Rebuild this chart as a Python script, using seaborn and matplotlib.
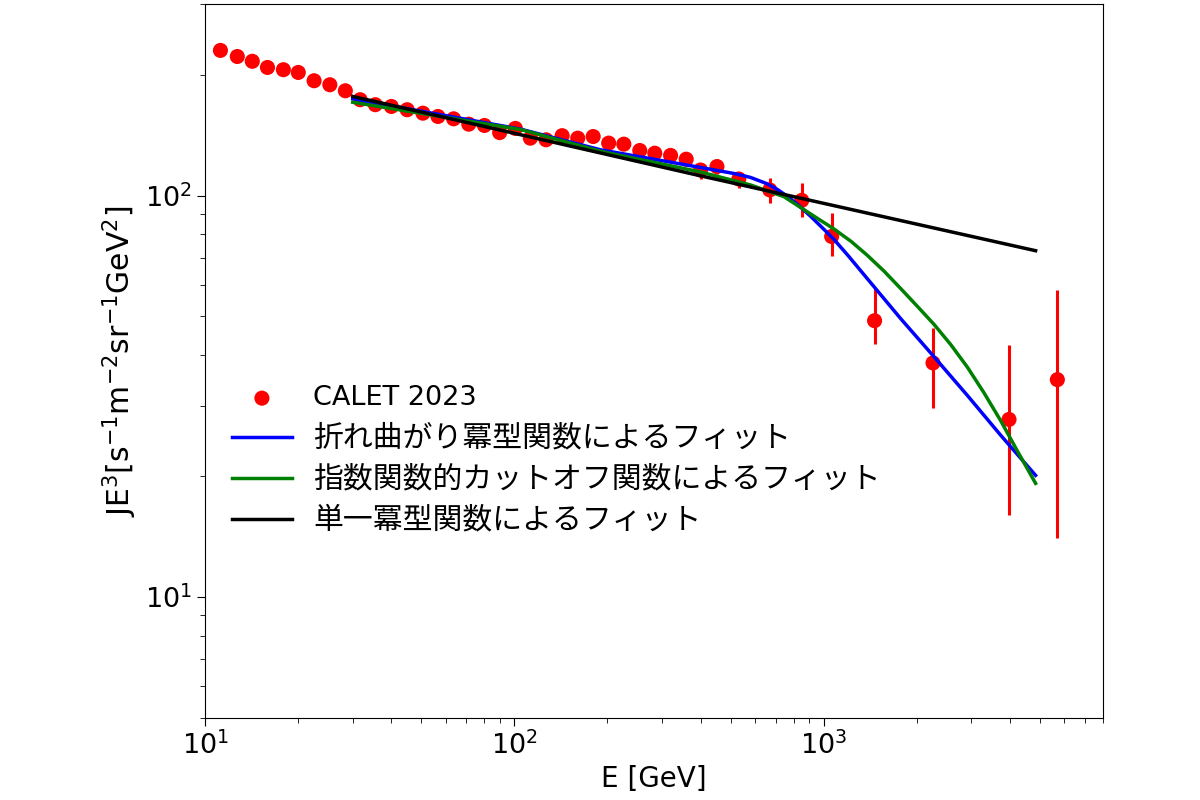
import matplotlib
matplotlib.use("Agg")
import matplotlib.pyplot as plt
import numpy as np
import pandas as pd
import seaborn as sns

# CALET 2023 データ点 (E [GeV], JE^3)
energy = [11.2, 12.7, 14.2, 15.9, 17.9, 20.0, 22.5, 25.3, 28.4, 31.7,
          35.5, 40.0, 45.0, 50.6, 56.6, 63.6, 71.2, 80.0, 89.6, 100.7,
          112.6, 126.6, 142.7, 160.3, 179.8, 201.8, 225.9, 254.4, 284.5, 320.0,
          359.5, 400.0, 452.0, 532.0, 670.0, 850.0, 1062.0, 1462.0, 2259.0, 3979.0,
          5703.0]
flux = [229.9, 222.0, 216.0, 208.5, 205.8, 202.6, 193.2, 188.8, 182.4, 173.3,
        168.4, 166.7, 163.6, 160.4, 157.4, 155.3, 150.6, 149.5, 143.5, 147.0,
        139.0, 137.7, 141.0, 139.0, 140.3, 135.1, 134.3, 129.5, 127.5, 125.9,
        123.2, 115.8, 118.1, 110.0, 103.3, 97.3, 79.1, 48.8, 38.3, 27.7,
        34.8]
err_lo = [1.5] * 20 + [2.5] * 11 + [6.0, 5.0, 5.5, 7.5, 9.0, 8.3, 6.2, 8.7, 11.7, 20.8]
err_hi = [1.5] * 20 + [2.5] * 11 + [4.6, 5.0, 4.5, 7.1, 10.0, 11.2, 9.9, 8.4, 14.7, 23.4]

# 折れ曲がり冪型関数によるフィット
bpl_e = [30, 105, 190, 400, 513, 580, 657, 710, 763, 830, 908, 990, 1080, 1200, 1385, 1775, 2275, 2917, 3740, 4850]
bpl_v = [174.2, 146.3, 130.0, 117.5, 113.5, 111.0, 107.0, 103.5, 99.6, 94.6, 88.8, 83.2, 77.8, 70.9, 62.1, 49.4, 39.7, 31.8, 25.3, 20.1]

# 指数関数的カットオフ関数によるフィット
ec_e = [30, 105, 190, 400, 580, 744, 954, 1080, 1230, 1385, 1570, 1775, 2010, 2275, 2575,
        2917, 3300, 3740, 4250, 4850]
ec_v = [170.8, 146.0, 128.9, 114.5, 106.3, 99.4, 87.8, 82.6, 76.8, 71.0, 64.8, 58.7, 53.0, 47.8, 42.6,
        37.4, 32.3, 27.5, 23.0, 19.2]

# 単一冪型関数によるフィット
spl_e = [30, 400, 4850]
spl_v = [176.6, 112.0, 72.9]

labels = ['CALET 2023',
          '折れ曲がり冪型関数によるフィット',
          '指数関数的カットオフ関数によるフィット',
          '単一冪型関数によるフィット']

plt.rcParams['font.family'] = ['DejaVu Sans', 'Noto Sans CJK JP']

df = pd.DataFrame({'E': energy, 'flux': flux})

fig, ax = plt.subplots(figsize=(12, 8), dpi=100)
fig.subplots_adjust(left=0.171, right=0.919, bottom=0.1025, top=0.995)

ax.set_xscale('log')
ax.set_yscale('log')

# 誤差棒
ax.errorbar(energy, flux, yerr=[err_lo, err_hi], fmt='none', ecolor='red',
            elinewidth=2.2, zorder=2)
# データ点
sns.scatterplot(data=df, x='E', y='flux', color='red', s=118, edgecolor='none',
                ax=ax, zorder=3, label=labels[0])

# フィット曲線
fits = [(bpl_e, bpl_v, 'blue', labels[1]),
        (ec_e, ec_v, 'green', labels[2]),
        (spl_e, spl_v, 'black', labels[3])]
for xs, ys, c, lab in fits:
    sns.lineplot(x=xs, y=ys, color=c, linewidth=2.5, sort=False, estimator=None,
                 ax=ax, zorder=4, label=lab)

ax.set_xlim(10, 8000)
ax.set_ylim(5, 300)
ax.set_xlabel('E [GeV]', fontsize=20)
ax.set_ylabel(r'JE$^3$[s$^{-1}$m$^{-2}$sr$^{-1}$GeV$^2$]', fontsize=21.5)
ax.tick_params(axis='both', which='major', labelsize=19.5, length=6)
ax.tick_params(axis='both', which='minor', length=3.5)

handles, labs = ax.get_legend_handles_labels()
leg = ax.legend(handles, labs, loc='upper left', bbox_to_anchor=(0.03, 0.466),
                frameon=False, fontsize=19.5, borderpad=0, borderaxespad=0,
                handlelength=2.2, labelspacing=0.45)
# 日本語ラベルは少し大きめ
for t in leg.get_texts()[1:]:
    t.set_fontsize(21.5)

plt.savefig('out.png', dpi=100)
plt.close()
